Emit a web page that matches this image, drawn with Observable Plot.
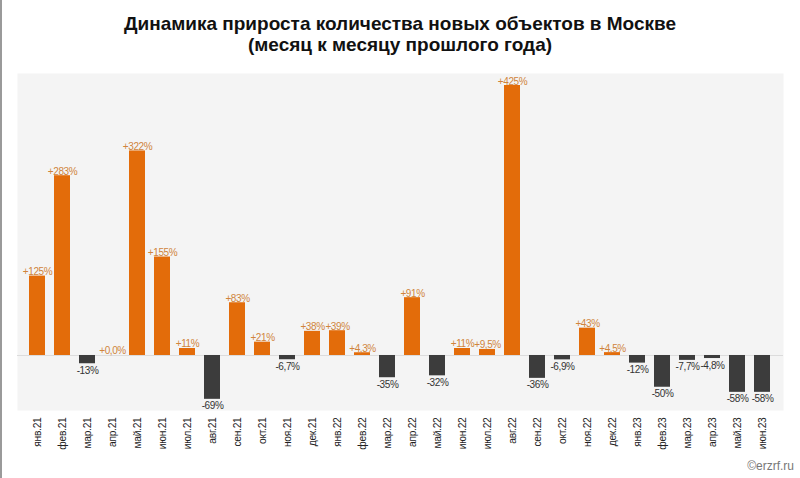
<!DOCTYPE html>
<html>
<head>
<meta charset="utf-8">
<script src="https://cdn.jsdelivr.net/npm/d3@7"></script>
<script src="https://cdn.jsdelivr.net/npm/@observablehq/plot@0.6"></script>
<style>
  html, body { margin: 0; padding: 0; background: #fff; }
  #wrap { position: relative; width: 800px; height: 478px; overflow: hidden; font-family: "Liberation Sans", Arial, sans-serif; }
  #title { position: absolute; left: 0; top: 13px; width: 800px; text-align: center; font-family: "Liberation Sans Narrow", "Liberation Sans", Arial, sans-serif; font-weight: bold; font-size: 19px; line-height: 21px; color: #111; }
  #chart { position: absolute; left: 0; top: 62px; }
  #chart g[aria-label="text"] text { letter-spacing: -0.4px; }
  #chart g[aria-label="x-axis tick label"] text { letter-spacing: -0.3px; }
  #credit { position: absolute; right: 6px; top: 459px; font-size: 12px; color: #777; }
  #edge { position: absolute; left: 0; top: 0; width: 2px; height: 478px; background: #9a9a9a; }
</style>
</head>
<body>
<div id="wrap">
  <div id="edge"></div>
  <div id="title">Динамика прироста количества новых объектов в Москве<br>(месяц к месяцу прошлого года)</div>
  <div id="chart"></div>
  <div id="credit">©erzrf.ru</div>
</div>
<script>
const months = ["янв.21","фев.21","мар.21","апр.21","май.21","июн.21","июл.21","авг.21","сен.21","окт.21","ноя.21","дек.21",
  "янв.22","фев.22","мар.22","апр.22","май.22","июн.22","июл.22","авг.22","сен.22","окт.22","ноя.22","дек.22",
  "янв.23","фев.23","мар.23","апр.23","май.23","июн.23"];
const values = [125, 283, -13, 0.0, 322, 155, 11, -69, 83, 21, -6.7, 38,
  39, 4.3, -35, 91, -32, 11, 9.5, 425, -36, -6.9, 43, 4.5,
  -12, -50, -7.7, -4.8, -58, -58];
const labels = ["+125%","+283%","-13%","+0,0%","+322%","+155%","+11%","-69%","+83%","+21%","-6,7%","+38%",
  "+39%","+4,3%","-35%","+91%","-32%","+11%","+9,5%","+425%","-36%","-6,9%","+43%","+4,5%",
  "-12%","-50%","-7,7%","-4,8%","-58%","-58%"];

const data = months.map((m, i) => ({month: m, value: values[i], label: labels[i], pos: values[i] >= 0}));

const chart = Plot.plot({
  width: 800,
  height: 416,
  marginTop: 11,
  marginBottom: 68,
  marginLeft: 17,
  marginRight: 17,
  style: {fontFamily: "'Liberation Sans', Arial, sans-serif", background: "transparent"},
  x: {domain: months, paddingInner: 0.35, paddingOuter: 0.165, label: null},
  y: {domain: [-86.6, 443.9], axis: null},
  marks: [
    Plot.frame({fill: "#f4f4f4", stroke: null}),
    Plot.ruleY([0], {stroke: "#dcdcdc", strokeWidth: 1}),
    Plot.barY(data, {x: "month", y: "value", fill: d => d.pos ? "#e36c0a" : "#3c3c3c"}),
    Plot.text(data.filter(d => d.pos), {x: "month", y: "value", text: "label", lineAnchor: "bottom", dy: -1, fill: "#d0843c", fontSize: 10}),
    Plot.text(data.filter(d => !d.pos), {x: "month", y: "value", text: "label", lineAnchor: "top", dy: 3, fill: "#333", fontSize: 10}),
    Plot.axisX({tickRotate: -90, tickSize: 0, tickPadding: 7, fontSize: 10.3, color: "#222", label: null})
  ]
});
document.getElementById("chart").appendChild(chart);
</script>
</body>
</html>
